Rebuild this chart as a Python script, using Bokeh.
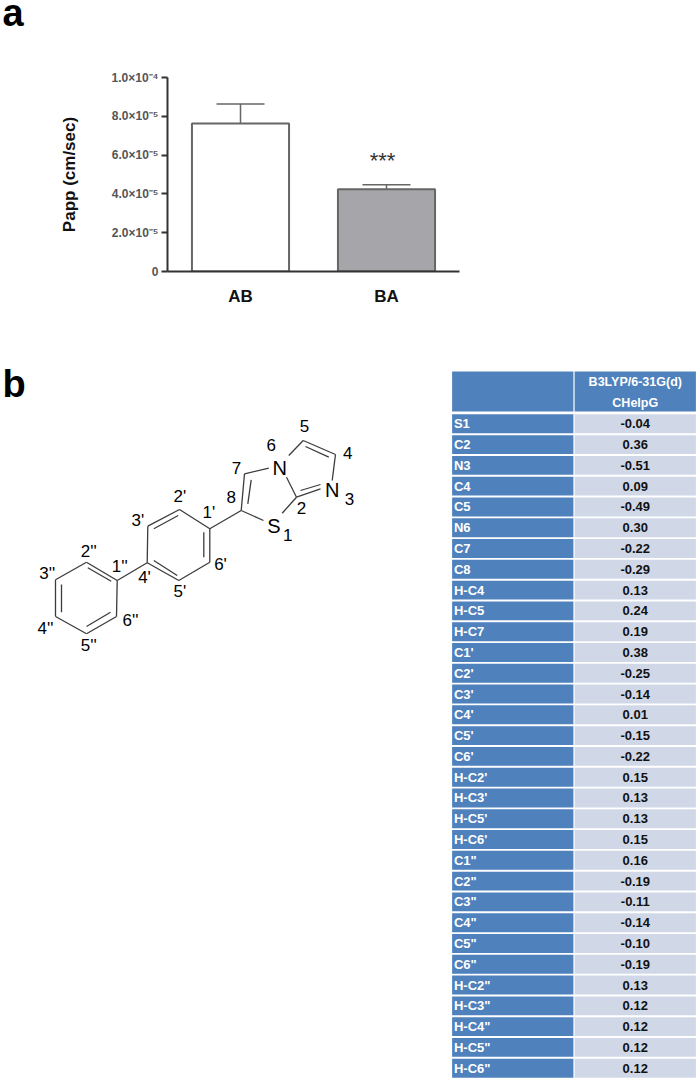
from bokeh.plotting import figure
from bokeh.layouts import column, row
from bokeh.models import ColumnDataSource, FactorRange, Range1d, Whisker, TeeHead
from bokeh.core.properties import value
from bokeh.embed import file_html
from bokeh.resources import INLINE

FONT = "Liberation Sans"

# panel a
directions = ["AB", "BA"]
papp = [7.63e-5, 4.24e-5]
papp_err_top = [8.64e-5, 4.47e-5]
papp_ticks = [0, 2e-5, 4e-5, 6e-5, 8e-5, 1e-4]
papp_tick_labels = ["0", "2.0×10⁻⁵", "4.0×10⁻⁵", "6.0×10⁻⁵", "8.0×10⁻⁵", "1.0×10⁻⁴"]
bar_fills = ["#FFFFFF", "#A6A5A9"]

# panel b, molecule (positions, in its pixels)
bond_x0 = [116.7, 86, 55, 55, 86, 116, 116.7,
           209.3, 179, 147.3, 146.7, 178.3, 209.3, 209.3,
           240.7, 244, 240.7, 281.7, 286, 288.3, 302.7, 335, 320, 320,
           250.7, 305, 87.3, 61, 86, 153.3, 203.3, 153.3]
bond_y0 = [580, 561.7, 579.3, 616, 633.3, 616, 580,
           528.3, 509, 525.7, 562.3, 580, 561.7, 528.3,
           510, 473.3, 510, 512.7, 476.7, 455, 440, 454, 488.3, 484,
           479.3, 446, 567.3, 584, 626, 528.3, 531.7, 560]
bond_x1 = [86, 55, 55, 86, 116, 116.7, 146.7,
           179, 147.3, 146.7, 178.3, 209.3, 209.3, 240.7,
           244, 268.3, 263, 296, 296, 302.7, 335, 331.7, 296, 300,
           247.3, 328.3, 110.7, 61, 110, 177.7, 203.3, 176.7]
bond_y1 = [561.7, 579.3, 616, 633.3, 616, 580, 562.3,
           509, 525.7, 562.3, 580, 561.7, 528.3, 510,
           473.3, 467.7, 520, 496.7, 496.7, 440, 454, 480, 496.7, 490,
           503.3, 456.7, 580.7, 611.7, 611.7, 515, 556.7, 575]
atom_text = ["5", "6", "4", "7", "N", "N", "3", "8", "2", "S", "1", "2'", "1'", "3'", "6'", "4'", "5'", "1''", "2''", "3''", "6''", "4''", "5''"]
atom_x = [304, 270.7, 347.3, 236, 279.3, 331.7, 349, 230.7, 301, 273.3, 287.3, 179.3, 208.3, 137.3, 220, 144, 179.3, 119.3, 88.3, 46.7, 130, 45, 88.3]
atom_y = [425.7, 444, 452.7, 467.7, 467, 489.3, 498.3, 496, 507.7, 525, 534, 496, 511.7, 520, 564.3, 576.7, 590.7, 566, 550.7, 573.3, 620, 628.3, 645]
atom_size = ["17px", "17px", "17px", "17px", "20px", "20px", "17px", "17px", "17px", "20px", "17px"] + ["17px"] * 12

# panel b, table
atoms = ["S1", "C2", "N3", "C4", "C5", "N6", "C7", "C8", "H-C4", "H-C5", "H-C7",
         "C1'", "C2'", "C3'", "C4'", "C5'", "C6'", "H-C2'", "H-C3'", "H-C5'", "H-C6'",
         "C1\"", "C2\"", "C3\"", "C4\"", "C5\"", "C6\"", "H-C2\"", "H-C3\"", "H-C4\"", "H-C5\"", "H-C6\""]
charges = ["-0.04", "0.36", "-0.51", "0.09", "-0.49", "0.30", "-0.22", "-0.29", "0.13", "0.24", "0.19",
           "0.38", "-0.25", "-0.14", "0.01", "-0.15", "-0.22", "0.15", "0.13", "0.13", "0.15",
           "0.16", "-0.19", "-0.11", "-0.14", "-0.10", "-0.19", "0.13", "0.12", "0.12", "0.12", "0.12"]
table_header = ["B3LYP/6-31G(d)", "CHelpG"]
BLUE = "#4F81BD"
PALE = "#D0D8E8"

# ---------- panel letter a ----------
H_L = 32
pl = figure(width=697, height=H_L, output_backend="svg", toolbar_location=None,
            x_range=Range1d(0, 697), y_range=Range1d(H_L, 0),
            x_axis_location=None, y_axis_location=None, min_border=0)
pl.outline_line_color = None
pl.grid.visible = False
pl.text([2], [12], text=["a"], text_align="left", text_baseline="middle",
        text_font=value(FONT), text_font_style="bold", text_font_size="38px", text_color="#000000")

# ---------- bar chart ----------
W_A, H_A = 697, 360 - H_L
pa = figure(width=W_A, height=H_A, output_backend="svg", toolbar_location=None,
            x_range=FactorRange(*directions, range_padding=0, factor_padding=0),
            y_range=Range1d(0, 1e-4),
            min_border_left=167, min_border_right=W_A - 459, min_border_top=77 - H_L,
            min_border_bottom=360 - 271)
pa.outline_line_color = None
pa.grid.visible = False
src = ColumnDataSource(dict(x=directions, top=papp, hi=papp_err_top, fill=bar_fills))
pa.vbar(x="x", top="top", width=0.665, bottom=0, source=src, fill_color="fill",
        line_color="#666666", line_width=2)
pa.add_layout(Whisker(base="x", upper="hi", lower="top", source=src, dimension="height",
                      line_color="#666666", line_width=1.5,
                      upper_head=TeeHead(size=48, line_color="#666666", line_width=1.5),
                      lower_head=None))
pa.text(x=["BA"], y=[5.7e-5], text=["***"], text_align="center", text_baseline="middle",
        x_offset=-4, text_font=value(FONT), text_font_size="22px", text_color="#333333")
ya = pa.yaxis[0]
ya.ticker = papp_ticks
ya.major_label_overrides = {t: l for t, l in zip(papp_ticks, papp_tick_labels)}
ya.axis_line_color = "#333333"
ya.axis_line_width = 2
ya.major_tick_line_color = "#333333"
ya.major_tick_line_width = 2
ya.major_tick_out = 6
ya.major_tick_in = 0
ya.minor_tick_line_color = None
ya.major_label_text_font = FONT
ya.major_label_text_font_style = "bold"
ya.major_label_text_font_size = "12px"
ya.major_label_text_color = "#555555"
ya.major_label_standoff = 3
ya.axis_label = "Papp (cm/sec)"
ya.axis_label_text_font = FONT
ya.axis_label_text_font_style = "bold"
ya.axis_label_text_font_size = "17px"
ya.axis_label_text_color = "#111111"
ya.axis_label_standoff = 30
xa = pa.xaxis[0]
xa.axis_line_color = "#333333"
xa.axis_line_width = 2
xa.major_tick_line_color = None
xa.minor_tick_line_color = None
xa.major_label_text_font = FONT
xa.major_label_text_font_style = "bold"
xa.major_label_text_font_size = "17px"
xa.major_label_text_color = "#111111"
xa.major_label_standoff = 9

# ---------- molecule ----------
pm = figure(width=445, height=721, output_backend="svg", toolbar_location=None,
            x_range=Range1d(0, 445), y_range=Range1d(1081, 360),
            x_axis_location=None, y_axis_location=None, min_border=0)
pm.outline_line_color = None
pm.grid.visible = False
pm.segment(bond_x0, bond_y0, bond_x1, bond_y1, line_color="#3C3C3C", line_width=1.3)
pm.text(atom_x, atom_y, text=atom_text, text_align="center", text_baseline="middle",
        text_font=value(FONT), text_font_size=atom_size, text_color="#000000")
pm.text([2], [383], text=["b"], text_align="left", text_baseline="middle",
        text_font=value(FONT), text_font_style="bold", text_font_size="38px", text_color="#000000")

# ---------- table ----------
n = len(atoms)
idx = list(range(n))
pt = figure(width=252, height=721, output_backend="svg", toolbar_location=None,
            x_range=Range1d(-0.049, 2.008), y_range=Range1d(31.64, -3.045),
            x_axis_location=None, y_axis_location=None, min_border=0)
pt.outline_line_color = None
pt.grid.visible = False
pt.rect(x=[0.5] * n, y=idx, width=0.99, height=0.91, fill_color=BLUE, line_color=None)
pt.rect(x=[1.5] * n, y=idx, width=0.99, height=0.91, fill_color=PALE, line_color=None)
pt.rect(x=[0.5, 1.5], y=[-1.554, -1.554], width=0.99, height=1.92, fill_color=BLUE, line_color=None)
pt.text(x=[0.02] * n, y=idx, text=atoms, text_align="left", text_baseline="middle",
        text_font=value(FONT), text_font_style="bold", text_font_size="13px", text_color="#FFFFFF")
pt.text(x=[1.5] * n, y=idx, text=charges, text_align="center", text_baseline="middle",
        text_font=value(FONT), text_font_style="bold", text_font_size="13px", text_color="#111111")
pt.text(x=[1.5, 1.5], y=[-2.0, -1.01], text=table_header, text_align="center", text_baseline="middle",
        text_font=value(FONT), text_font_style="bold", text_font_size="12.5px", text_color="#FFFFFF")

page = column(row(pl), row(pa), row(pm, pt, spacing=0), spacing=0)
open("out.html", "w").write(file_html(page, INLINE))
